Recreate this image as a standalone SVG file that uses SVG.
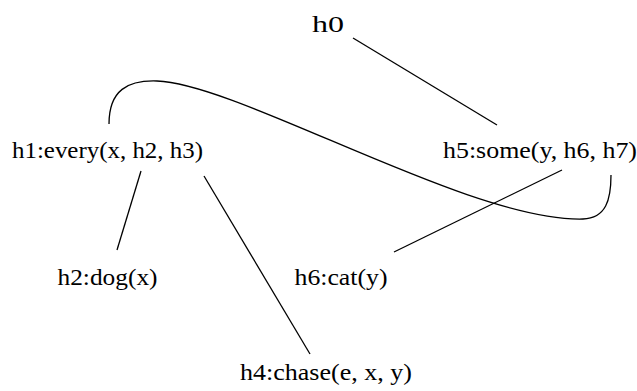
<svg xmlns="http://www.w3.org/2000/svg" width="637" height="391" viewBox="0 0 637 391">
<style>
.t{font-family:'Liberation Serif', 'Times New Roman', serif;font-size:24px;fill:#000;text-anchor:middle}
.e{stroke:#000;stroke-width:1.3;fill:none}
</style>
<rect width="637" height="391" fill="#fff"/>
<g id="connectors">
<line class="e" x1="353" y1="38" x2="497" y2="125"/>
<line class="e" x1="141" y1="171" x2="117" y2="250"/>
<line class="e" x1="204" y1="176" x2="310" y2="354"/>
<line class="e" x1="562" y1="170" x2="394" y2="252"/>
<path class="e" d="M109,124 C109,90 128,80 157,81 C240,84 470,222 583,219 C606,218 611,200 611,175"/>
</g>
<g id="h0"><text class="t" font-family="Liberation Serif" x="328" y="32" textLength="32" lengthAdjust="spacingAndGlyphs">h0</text></g>
<g id="h1"><text class="t" font-family="Liberation Serif" x="107.5" y="158" textLength="191" lengthAdjust="spacingAndGlyphs">h1:every(x, h2, h3)</text></g>
<g id="h5"><text class="t" font-family="Liberation Serif" x="540" y="158" textLength="194" lengthAdjust="spacingAndGlyphs">h5:some(y, h6, h7)</text></g>
<g id="h2"><text class="t" font-family="Liberation Serif" x="107.5" y="285" textLength="100" lengthAdjust="spacingAndGlyphs">h2:dog(x)</text></g>
<g id="h6"><text class="t" font-family="Liberation Serif" x="341" y="285" textLength="93" lengthAdjust="spacingAndGlyphs">h6:cat(y)</text></g>
<g id="h4"><text class="t" font-family="Liberation Serif" x="326" y="380" textLength="172" lengthAdjust="spacingAndGlyphs">h4:chase(e, x, y)</text></g>
</svg>
